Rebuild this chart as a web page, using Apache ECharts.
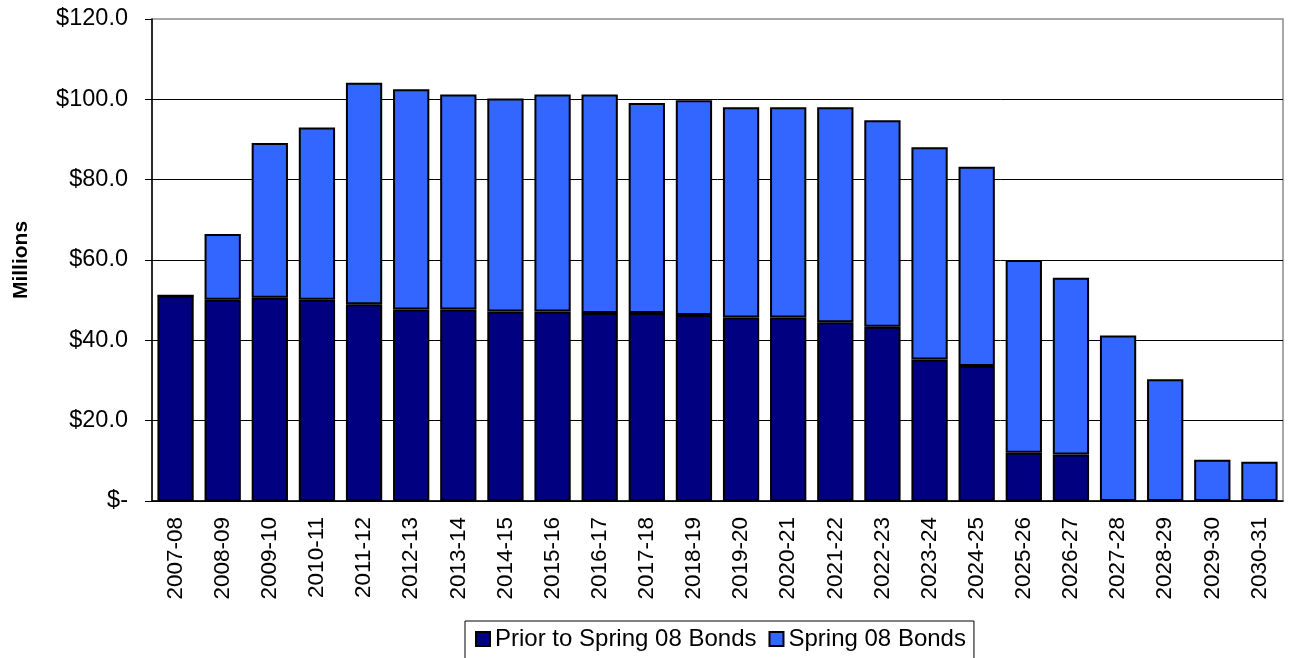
<!DOCTYPE html>
<html>
<head>
<meta charset="utf-8">
<script src="https://cdn.jsdelivr.net/npm/echarts@6/dist/echarts.min.js"></script>
<style>html,body{margin:0;padding:0;background:#fff;}#c{width:1289px;height:658px;}</style>
</head>
<body>
<div id="c"></div>
<script>
const categories = ['2007-08','2008-09','2009-10','2010-11','2011-12','2012-13','2013-14','2014-15','2015-16','2016-17','2017-18','2018-19','2019-20','2020-21','2021-22','2022-23','2023-24','2024-25','2025-26','2026-27','2027-28','2028-29','2029-30','2030-31'];
const priorBonds = [51.1,50.1,50.6,50.1,49.0,47.7,47.7,47.2,47.2,46.8,46.8,46.3,45.7,45.7,44.5,43.4,35.2,33.6,12.0,11.6,0,0,0,0];
const spring08Bonds = [0,16.4,38.5,42.9,55.1,54.8,53.5,53.0,54.0,54.4,52.3,53.5,52.3,52.3,53.5,51.4,52.9,49.6,48.0,44.0,41.2,30.3,10.3,9.8];
const yTicks = [0,20,40,60,80,100,120];

const chart = echarts.init(document.getElementById('c'), null, {renderer:'canvas'});
const font = 'Liberation Sans, Arial, sans-serif';
chart.setOption({
  animation:false,
  backgroundColor:'#fff',
  textStyle:{fontFamily:font},
  grid:{left:152,right:6,top:19,bottom:157,show:true,borderColor:'#8c8c8c',borderWidth:1.5,backgroundColor:'transparent',
        containLabel:false,outerBoundsMode:'none'},
  legend:{
    top:621,left:465,
    itemGap:12,itemWidth:14,itemHeight:14,icon:'rect',
    padding:[6,8,30,10],
    borderColor:'#000',borderWidth:1,
    textStyle:{fontSize:24,color:'#000',fontFamily:font},
    data:['Prior to Spring 08 Bonds','Spring 08 Bonds']
  },
  xAxis:{
    type:'category',data:categories,
    axisLine:{lineStyle:{color:'#000',width:1.5}},
    axisTick:{length:8,lineStyle:{color:'#000',width:1}},
    axisLabel:{rotate:90,fontSize:22.5,color:'#000',margin:16,interval:0,fontFamily:font}
  },
  yAxis:{
    type:'value',min:yTicks[0],max:yTicks[yTicks.length-1],interval:20,
    name:'Millions',nameLocation:'middle',nameGap:120,
    nameTextStyle:{fontSize:21,fontWeight:'bold',color:'#000',fontFamily:font},
    axisLine:{show:true,lineStyle:{color:'#000',width:1.5}},
    axisTick:{show:true,inside:false,length:7,lineStyle:{color:'#000'}},
    splitLine:{show:true,showMaxLine:false,lineStyle:{color:'#000',width:1}},
    axisLabel:{fontSize:23.5,color:'#000',margin:24,fontFamily:font,
      formatter:function(v){return v===0?'$-':'$'+v.toFixed(1);}}
  },
  series:[
    {name:'Prior to Spring 08 Bonds',type:'bar',stack:'t',data:priorBonds,barCategoryGap:'23%',
     itemStyle:{color:'#000080',borderColor:'#000',borderWidth:2}},
    {name:'Spring 08 Bonds',type:'bar',stack:'t',data:spring08Bonds,barCategoryGap:'23%',
     itemStyle:{color:'#3366ff',borderColor:'#000',borderWidth:2}}
  ]
});
</script>
</body>
</html>
